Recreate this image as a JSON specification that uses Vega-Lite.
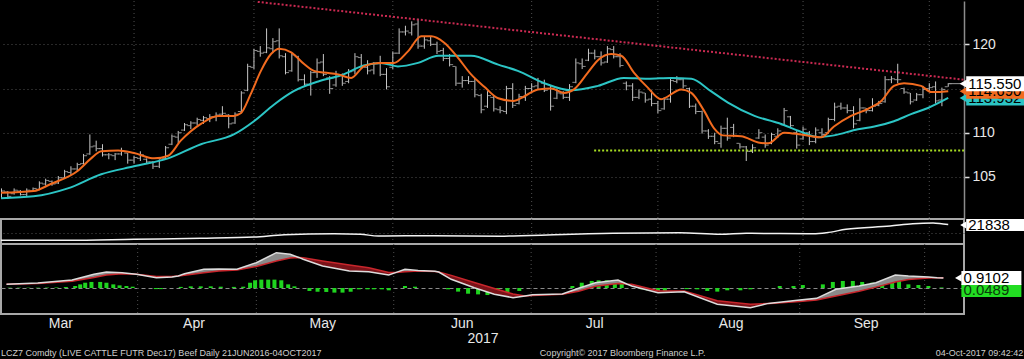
{
"$schema":"https://vega.github.io/schema/vega-lite/v6.json",
"background":"#000000",
"padding":0,
"autosize":{"type":"pad"},
"spacing":0,
"bounds":"flush",
"config":{"view":{"stroke":null},"font":"Liberation Sans","axis":{"gridColor":"#505050","gridDash":[1,3],"gridWidth":1,"labelColor":"#e8e8e8","labelFont":"Liberation Sans","labelFontSize":14,"domainColor":"#8c8c8c"}},
"datasets":{
"months":[{"i":23},{"i":42},{"i":64},{"i":86},{"i":106},{"i":129},{"i":149}],
"bars":[
{"i":2,"o":103.1,"h":103.7,"l":102.6,"c":103.4},
{"i":3,"o":103.3,"h":103.4,"l":102.5,"c":102.8},
{"i":4,"o":103.1,"h":103.7,"l":103.0,"c":103.5},
{"i":5,"o":103.4,"h":103.5,"l":102.9,"c":103.0},
{"i":6,"o":103.0,"h":103.7,"l":102.8,"c":103.5},
{"i":7,"o":103.4,"h":103.8,"l":103.3,"c":103.7},
{"i":8,"o":103.6,"h":104.5,"l":103.5,"c":104.3},
{"i":9,"o":104.2,"h":104.8,"l":104.0,"c":104.6},
{"i":10,"o":104.5,"h":104.6,"l":104.0,"c":104.2},
{"i":11,"o":104.3,"h":105.1,"l":104.2,"c":104.9},
{"i":12,"o":104.9,"h":105.8,"l":104.8,"c":105.6},
{"i":13,"o":105.5,"h":106.2,"l":105.2,"c":105.9},
{"i":14,"o":105.9,"h":106.6,"l":105.6,"c":106.4},
{"i":15,"o":106.5,"h":107.6,"l":106.4,"c":107.4},
{"i":16,"o":107.6,"h":109.8,"l":107.5,"c":108.4},
{"i":17,"o":108.5,"h":109.1,"l":107.9,"c":108.2},
{"i":18,"o":108.2,"h":108.7,"l":107.3,"c":107.5},
{"i":19,"o":107.5,"h":107.7,"l":107.0,"c":107.5},
{"i":20,"o":107.4,"h":107.7,"l":106.9,"c":107.6},
{"i":21,"o":107.6,"h":108.3,"l":107.4,"c":107.9},
{"i":22,"o":107.7,"h":107.7,"l":106.5,"c":106.9},
{"i":23,"o":106.9,"h":107.4,"l":106.5,"c":107.2},
{"i":24,"o":107.1,"h":107.9,"l":106.8,"c":107.5},
{"i":25,"o":107.0,"h":107.1,"l":106.5,"c":106.7},
{"i":26,"o":106.7,"h":106.8,"l":105.9,"c":106.2},
{"i":27,"o":106.2,"h":107.0,"l":106.0,"c":106.9},
{"i":28,"o":107.1,"h":108.5,"l":107.0,"c":108.3},
{"i":29,"o":108.7,"h":109.8,"l":108.6,"c":109.6},
{"i":30,"o":109.5,"h":110.2,"l":108.8,"c":110.0},
{"i":31,"o":110.3,"h":111.1,"l":110.2,"c":110.9},
{"i":32,"o":110.8,"h":111.3,"l":110.4,"c":111.1},
{"i":33,"o":111.1,"h":111.7,"l":110.8,"c":111.5},
{"i":34,"o":111.4,"h":111.9,"l":111.0,"c":111.7},
{"i":35,"o":111.6,"h":112.1,"l":111.2,"c":111.8},
{"i":36,"o":111.8,"h":112.3,"l":111.3,"c":112.0},
{"i":37,"o":112.1,"h":113.0,"l":111.9,"c":112.2},
{"i":38,"o":112.0,"h":112.1,"l":110.5,"c":111.0},
{"i":39,"o":111.1,"h":112.3,"l":111.0,"c":112.1},
{"i":40,"o":112.4,"h":114.7,"l":112.2,"c":114.5},
{"i":41,"o":114.8,"h":117.8,"l":114.7,"c":117.5},
{"i":42,"o":117.4,"h":119.5,"l":117.2,"c":119.3},
{"i":43,"o":119.2,"h":119.8,"l":118.6,"c":119.0},
{"i":44,"o":119.1,"h":121.8,"l":119.0,"c":119.6},
{"i":45,"o":119.5,"h":120.7,"l":119.0,"c":120.3},
{"i":46,"o":120.4,"h":121.8,"l":118.4,"c":118.7},
{"i":47,"o":118.6,"h":119.0,"l":116.6,"c":116.8},
{"i":48,"o":117.0,"h":119.0,"l":116.9,"c":118.8},
{"i":49,"o":118.6,"h":118.7,"l":115.8,"c":116.0},
{"i":50,"o":116.0,"h":116.6,"l":115.3,"c":115.5},
{"i":51,"o":115.4,"h":117.0,"l":114.2,"c":116.8},
{"i":52,"o":116.8,"h":118.4,"l":116.2,"c":117.9},
{"i":53,"o":118.0,"h":118.9,"l":116.4,"c":116.6},
{"i":54,"o":116.2,"h":116.4,"l":114.4,"c":115.0},
{"i":55,"o":115.4,"h":117.0,"l":115.2,"c":116.6},
{"i":56,"o":116.5,"h":116.7,"l":115.3,"c":115.6},
{"i":57,"o":115.8,"h":117.2,"l":115.6,"c":116.9},
{"i":58,"o":117.0,"h":119.0,"l":116.6,"c":118.6},
{"i":59,"o":118.5,"h":118.9,"l":117.2,"c":117.5},
{"i":60,"o":117.4,"h":118.2,"l":116.6,"c":117.0},
{"i":61,"o":117.1,"h":118.0,"l":116.6,"c":117.8},
{"i":62,"o":117.8,"h":118.7,"l":116.4,"c":116.6},
{"i":63,"o":116.6,"h":117.3,"l":114.9,"c":115.2},
{"i":64,"o":117.4,"h":119.2,"l":117.2,"c":119.0},
{"i":65,"o":119.0,"h":121.8,"l":118.9,"c":121.4},
{"i":66,"o":121.4,"h":122.1,"l":121.0,"c":121.5},
{"i":67,"o":121.3,"h":122.6,"l":121.0,"c":122.2},
{"i":68,"o":122.3,"h":122.9,"l":119.5,"c":119.8},
{"i":69,"o":119.8,"h":120.9,"l":119.5,"c":120.5},
{"i":70,"o":120.4,"h":120.9,"l":119.8,"c":120.0},
{"i":71,"o":120.0,"h":120.3,"l":118.9,"c":119.2},
{"i":72,"o":119.3,"h":119.6,"l":118.1,"c":118.4},
{"i":73,"o":118.4,"h":118.9,"l":117.5,"c":117.7},
{"i":74,"o":117.5,"h":117.5,"l":115.3,"c":115.6},
{"i":75,"o":115.6,"h":116.4,"l":115.1,"c":115.9},
{"i":76,"o":115.9,"h":116.4,"l":115.5,"c":115.8},
{"i":77,"o":115.8,"h":116.2,"l":114.0,"c":114.3},
{"i":78,"o":114.2,"h":114.4,"l":112.2,"c":112.6},
{"i":79,"o":113.0,"h":114.7,"l":112.8,"c":114.2},
{"i":80,"o":114.0,"h":114.2,"l":112.4,"c":112.7},
{"i":81,"o":112.6,"h":113.0,"l":112.2,"c":112.5},
{"i":82,"o":112.4,"h":115.3,"l":112.1,"c":115.0},
{"i":83,"o":115.0,"h":115.6,"l":112.8,"c":113.1},
{"i":84,"o":113.3,"h":114.4,"l":113.2,"c":114.1},
{"i":85,"o":114.0,"h":115.3,"l":113.6,"c":115.0},
{"i":86,"o":115.0,"h":115.6,"l":114.5,"c":115.2},
{"i":87,"o":115.3,"h":116.2,"l":114.9,"c":115.8},
{"i":88,"o":115.6,"h":116.0,"l":114.6,"c":114.8},
{"i":89,"o":115.0,"h":115.3,"l":112.5,"c":113.0},
{"i":90,"o":113.9,"h":115.0,"l":113.8,"c":114.5},
{"i":91,"o":114.4,"h":114.7,"l":113.8,"c":114.0},
{"i":92,"o":114.0,"h":115.5,"l":113.6,"c":115.2},
{"i":93,"o":115.7,"h":118.4,"l":115.6,"c":117.9},
{"i":94,"o":117.8,"h":118.4,"l":117.2,"c":117.5},
{"i":95,"o":118.2,"h":119.5,"l":118.1,"c":119.0},
{"i":96,"o":119.0,"h":119.4,"l":118.3,"c":118.6},
{"i":97,"o":118.6,"h":119.2,"l":117.6,"c":117.9},
{"i":98,"o":118.0,"h":119.8,"l":117.9,"c":119.5},
{"i":99,"o":119.4,"h":119.8,"l":118.4,"c":118.6},
{"i":100,"o":118.6,"h":119.0,"l":117.4,"c":117.6},
{"i":101,"o":115.6,"h":115.8,"l":114.8,"c":115.3},
{"i":102,"o":115.3,"h":115.6,"l":113.6,"c":114.0},
{"i":103,"o":114.0,"h":114.9,"l":113.8,"c":114.6},
{"i":104,"o":114.5,"h":114.5,"l":113.4,"c":113.7},
{"i":105,"o":113.8,"h":114.8,"l":113.0,"c":113.3},
{"i":106,"o":113.3,"h":113.6,"l":112.2,"c":112.5},
{"i":107,"o":112.7,"h":114.0,"l":112.6,"c":113.8},
{"i":108,"o":113.8,"h":116.2,"l":113.4,"c":115.9},
{"i":109,"o":115.8,"h":116.4,"l":115.6,"c":116.0},
{"i":110,"o":116.0,"h":116.2,"l":115.0,"c":115.3},
{"i":111,"o":115.0,"h":115.1,"l":112.8,"c":113.0},
{"i":112,"o":113.0,"h":113.3,"l":112.1,"c":112.4},
{"i":113,"o":112.4,"h":112.5,"l":109.9,"c":110.2},
{"i":114,"o":110.2,"h":110.4,"l":109.3,"c":109.6},
{"i":115,"o":109.6,"h":110.0,"l":108.7,"c":109.0},
{"i":116,"o":108.8,"h":110.8,"l":108.3,"c":110.5},
{"i":117,"o":110.5,"h":111.7,"l":109.1,"c":109.4},
{"i":118,"o":110.6,"h":111.0,"l":109.5,"c":109.7},
{"i":119,"o":108.8,"h":108.8,"l":108.2,"c":108.4},
{"i":120,"o":108.4,"h":108.5,"l":106.8,"c":107.9},
{"i":121,"o":107.9,"h":108.7,"l":107.7,"c":108.3},
{"i":122,"o":109.4,"h":110.4,"l":109.3,"c":110.0},
{"i":123,"o":109.5,"h":109.8,"l":108.3,"c":108.6},
{"i":124,"o":108.8,"h":110.0,"l":108.7,"c":109.8},
{"i":125,"o":109.6,"h":110.5,"l":109.4,"c":110.2},
{"i":126,"o":110.9,"h":112.8,"l":110.8,"c":112.5},
{"i":127,"o":111.8,"h":111.9,"l":110.5,"c":110.8},
{"i":128,"o":110.0,"h":110.2,"l":108.2,"c":108.6},
{"i":129,"o":109.3,"h":110.7,"l":109.2,"c":110.4},
{"i":130,"o":110.0,"h":110.2,"l":108.6,"c":109.0},
{"i":131,"o":109.0,"h":110.6,"l":108.8,"c":110.3},
{"i":132,"o":110.0,"h":110.5,"l":109.4,"c":109.8},
{"i":133,"o":110.0,"h":111.7,"l":109.9,"c":111.5},
{"i":134,"o":111.5,"h":113.4,"l":111.3,"c":112.9},
{"i":135,"o":113.0,"h":113.4,"l":112.6,"c":112.8},
{"i":136,"o":112.8,"h":113.2,"l":112.2,"c":112.5},
{"i":137,"o":112.5,"h":113.0,"l":110.5,"c":111.0},
{"i":138,"o":111.4,"h":113.9,"l":111.3,"c":112.8},
{"i":139,"o":112.8,"h":112.8,"l":112.2,"c":112.5},
{"i":140,"o":112.5,"h":113.9,"l":112.4,"c":113.0},
{"i":141,"o":113.1,"h":113.6,"l":113.0,"c":113.3},
{"i":142,"o":113.5,"h":116.4,"l":113.4,"c":116.0},
{"i":143,"o":116.0,"h":116.4,"l":115.6,"c":116.1},
{"i":144,"o":116.0,"h":117.8,"l":115.6,"c":116.0},
{"i":145,"o":115.0,"h":115.1,"l":114.4,"c":114.6},
{"i":146,"o":114.5,"h":114.5,"l":113.2,"c":113.5},
{"i":147,"o":113.7,"h":114.5,"l":113.6,"c":114.3},
{"i":148,"o":114.3,"h":115.3,"l":113.9,"c":114.9},
{"i":149,"o":115.0,"h":115.6,"l":114.7,"c":115.1},
{"i":150,"o":115.2,"h":115.8,"l":113.3,"c":113.6},
{"i":151,"o":113.7,"h":115.1,"l":113.0,"c":114.9},
{"i":152,"o":115.2,"h":115.6,"l":115.2,"c":115.55}
],
"fast":[
{"i":1.9,"v":103.2},{"i":7.1,"v":103.4},{"i":9.8,"v":104.2},{"i":14.1,"v":105.7},{"i":16.2,"v":107.1},{"i":17.8,"v":107.9},{"i":20.5,"v":108.0},{"i":23,"v":107.7},{"i":26.2,"v":107.1},{"i":28.4,"v":107.4},{"i":30.4,"v":109.1},{"i":33.6,"v":111.0},{"i":36.3,"v":111.9},{"i":38.8,"v":111.9},{"i":39.9,"v":112.2},{"i":41.5,"v":114.4},{"i":43.1,"v":117.0},{"i":44.7,"v":118.9},{"i":46,"v":119.5},{"i":47.9,"v":119.1},{"i":49.9,"v":117.8},{"i":51.5,"v":117.0},{"i":53.1,"v":116.8},{"i":55.3,"v":116.6},{"i":57.4,"v":116.2},{"i":59.4,"v":117.5},{"i":61.7,"v":117.9},{"i":64.2,"v":117.9},{"i":66.4,"v":119.2},{"i":68.5,"v":120.9},{"i":70.1,"v":120.9},{"i":72.1,"v":120.2},{"i":74.3,"v":118.5},{"i":76.4,"v":116.6},{"i":78.5,"v":115.2},{"i":80.7,"v":113.9},{"i":83.1,"v":113.6},{"i":84.8,"v":114.1},{"i":87,"v":114.9},{"i":89.1,"v":115.0},{"i":91.1,"v":114.5},{"i":92.7,"v":114.9},{"i":94.9,"v":116.8},{"i":96.5,"v":118.2},{"i":98.6,"v":118.9},{"i":100.2,"v":118.7},{"i":102.2,"v":116.8},{"i":104.4,"v":115.1},{"i":106.5,"v":113.8},{"i":109.7,"v":114.9},{"i":111.3,"v":114.5},{"i":113.3,"v":112.5},{"i":114.9,"v":110.5},{"i":116.3,"v":109.7},{"i":119.2,"v":109.6},{"i":121.9,"v":108.9},{"i":123.5,"v":108.8},{"i":126,"v":110.0},{"i":128.7,"v":109.8},{"i":131.9,"v":109.5},{"i":133.9,"v":110.7},{"i":136.6,"v":111.9},{"i":139.3,"v":112.7},{"i":141.4,"v":113.6},{"i":143.4,"v":115.3},{"i":145,"v":115.6},{"i":147.7,"v":115.3},{"i":149.3,"v":114.6},{"i":150.4,"v":114.6},{"i":152,"v":114.69}
],
"slow":[
{"i":1.9,"v":102.6},{"i":7.1,"v":102.8},{"i":12.5,"v":103.7},{"i":17.8,"v":105.3},{"i":23,"v":106.2},{"i":28.4,"v":107.1},{"i":33.6,"v":108.7},{"i":38.8,"v":109.8},{"i":42,"v":111.3},{"i":45.2,"v":113.2},{"i":48.3,"v":114.7},{"i":52.2,"v":115.8},{"i":55.8,"v":116.5},{"i":59.4,"v":117.6},{"i":62.1,"v":117.9},{"i":64.8,"v":117.5},{"i":68,"v":117.9},{"i":71.2,"v":118.7},{"i":76.4,"v":118.7},{"i":80.7,"v":117.7},{"i":83.8,"v":117.0},{"i":88,"v":115.6},{"i":92.2,"v":114.8},{"i":96.5,"v":115.3},{"i":100.6,"v":116.2},{"i":104.4,"v":116.1},{"i":108.1,"v":116.2},{"i":111.3,"v":116.1},{"i":114.4,"v":114.7},{"i":117.1,"v":113.4},{"i":121.3,"v":111.9},{"i":125.1,"v":111.1},{"i":128.7,"v":110.1},{"i":131.4,"v":109.5},{"i":133.9,"v":109.7},{"i":137.7,"v":110.4},{"i":140.3,"v":110.7},{"i":143.4,"v":111.3},{"i":146.1,"v":112.1},{"i":148.8,"v":112.8},{"i":152,"v":113.93}
],
"vol":[
{"i":1.9,"v":15480},{"i":12.5,"v":15480},{"i":23,"v":15880},{"i":33.6,"v":16280},{"i":42,"v":16800},{"i":46.8,"v":17720},{"i":54.7,"v":18120},{"i":58.9,"v":17880},{"i":61.7,"v":17200},{"i":70.5,"v":17320},{"i":81.1,"v":17080},{"i":83.1,"v":17200},{"i":98.9,"v":18280},{"i":109.5,"v":18520},{"i":115.9,"v":17880},{"i":120,"v":18280},{"i":130.6,"v":18120},{"i":132.7,"v":18520},{"i":135.8,"v":19880},{"i":142.8,"v":21200},{"i":146.4,"v":22120},{"i":149.6,"v":22400},{"i":151.2,"v":22000},{"i":152,"v":21838}
],
"macd":[
{"i":2,"m":0.34,"s":0.34,"g":1,"st":"u"},{"i":7,"m":0.45,"s":0.40,"g":1,"st":"u"},{"i":12.5,"m":0.72,"s":0.62,"g":1,"st":"u"},{"i":16,"m":1.25,"s":0.95,"g":1,"st":"u"},{"i":18,"m":1.45,"s":1.18,"g":1,"st":"u"},{"i":20.5,"m":1.39,"s":1.30,"g":1,"st":"u"},{"i":22.8,"m":1.26,"s":1.26,"g":1,"st":"u"},
{"i":22.8,"m":1.26,"s":1.26,"g":2,"st":"d"},{"i":26,"m":0.94,"s":1.05,"g":2,"st":"d"},{"i":28.5,"m":1.0,"s":1.04,"g":2,"st":"d"},{"i":29.5,"m":1.10,"s":1.10,"g":2,"st":"d"},
{"i":29.5,"m":1.10,"s":1.10,"g":3,"st":"u"},{"i":30.5,"m":1.30,"s":1.15,"g":3,"st":"u"},{"i":33.6,"m":1.70,"s":1.39,"g":3,"st":"u"},{"i":36,"m":1.72,"s":1.55,"g":3,"st":"u"},{"i":38.9,"m":1.70,"s":1.64,"g":3,"st":"u"},{"i":42,"m":2.30,"s":1.95,"g":3,"st":"u"},{"i":45.2,"m":3.21,"s":2.45,"g":3,"st":"u"},{"i":47.4,"m":3.06,"s":2.72,"g":3,"st":"u"},{"i":48.8,"m":2.78,"s":2.78,"g":3,"st":"u"},
{"i":48.8,"m":2.78,"s":2.78,"g":4,"st":"d"},{"i":49.5,"m":2.61,"s":2.74,"g":4,"st":"d"},{"i":52.6,"m":2.0,"s":2.45,"g":4,"st":"d"},{"i":56.9,"m":1.55,"s":2.10,"g":4,"st":"d"},{"i":60,"m":1.48,"s":1.85,"g":4,"st":"d"},{"i":63.2,"m":1.18,"s":1.42,"g":4,"st":"d"},{"i":64.4,"m":1.42,"s":1.42,"g":4,"st":"d"},
{"i":64.4,"m":1.42,"s":1.42,"g":5,"st":"u"},{"i":65.8,"m":1.70,"s":1.48,"g":5,"st":"u"},{"i":67.9,"m":1.58,"s":1.55,"g":5,"st":"u"},{"i":70.6,"m":1.52,"s":1.50,"g":5,"st":"u"},{"i":71.2,"m":1.45,"s":1.45,"g":5,"st":"u"},
{"i":71.2,"m":1.45,"s":1.45,"g":6,"st":"d"},{"i":73.2,"m":0.79,"s":1.15,"g":6,"st":"d"},{"i":76.9,"m":0.03,"s":0.50,"g":6,"st":"d"},{"i":80.1,"m":-0.57,"s":-0.05,"g":6,"st":"d"},{"i":83.1,"m":-0.88,"s":-0.55,"g":6,"st":"d"},{"i":85,"m":-0.72,"s":-0.72,"g":6,"st":"d"},
{"i":85,"m":-0.72,"s":-0.72,"g":7,"st":"u"},{"i":86.2,"m":-0.62,"s":-0.68,"g":7,"st":"u"},{"i":91,"m":-0.55,"s":-0.56,"g":7,"st":"u"},{"i":93.6,"m":-0.03,"s":-0.30,"g":7,"st":"u"},{"i":96.3,"m":0.48,"s":0.15,"g":7,"st":"u"},{"i":99.9,"m":0.73,"s":0.40,"g":7,"st":"u"},{"i":101.3,"m":0.36,"s":0.36,"g":7,"st":"u"},
{"i":101.3,"m":0.36,"s":0.36,"g":8,"st":"d"},{"i":102.1,"m":0.18,"s":0.35,"g":8,"st":"d"},{"i":106.3,"m":-0.43,"s":-0.25,"g":8,"st":"d"},{"i":110.5,"m":-0.34,"s":-0.28,"g":8,"st":"d"},{"i":115.8,"m":-1.48,"s":-1.15,"g":8,"st":"d"},{"i":121.1,"m":-1.79,"s":-1.48,"g":8,"st":"d"},{"i":123.8,"m":-1.42,"s":-1.42,"g":8,"st":"d"},
{"i":123.8,"m":-1.42,"s":-1.42,"g":9,"st":"u"},{"i":124.3,"m":-1.38,"s":-1.42,"g":9,"st":"u"},{"i":129,"m":-1.09,"s":-1.22,"g":9,"st":"u"},{"i":131.7,"m":-0.94,"s":-1.10,"g":9,"st":"u"},{"i":134.8,"m":-0.12,"s":-0.72,"g":9,"st":"u"},{"i":138.5,"m":0.18,"s":-0.30,"g":9,"st":"u"},{"i":141.2,"m":0.48,"s":0.08,"g":9,"st":"u"},{"i":144.3,"m":1.18,"s":0.55,"g":9,"st":"u"},{"i":146.4,"m":1.09,"s":0.78,"g":9,"st":"u"},{"i":149.6,"m":1.00,"s":0.90,"g":9,"st":"u"},{"i":151,"m":0.93,"s":0.93,"g":9,"st":"u"},
{"i":151,"m":0.93,"s":0.93,"g":10,"st":"d"},{"i":152,"m":0.91,"s":0.93,"g":10,"st":"d"}
],
"hist":[
{"i":2.5,"v":0.03},{"i":4,"v":0.03},{"i":5.5,"v":0.03},{"i":7,"v":0.03},{"i":8.5,"v":0.04},{"i":10,"v":0.05},{"i":11.5,"v":0.1},
{"i":13.0,"v":0.18},{"i":13.8,"v":0.33},{"i":14.6,"v":0.48},{"i":15.6,"v":0.55},{"i":17.0,"v":0.55},{"i":18.0,"v":0.48},{"i":19.1,"v":0.33},{"i":20.1,"v":0.24},{"i":21.2,"v":0.18},{"i":22.2,"v":0.12},
{"i":25.9,"v":-0.1},{"i":26.7,"v":-0.1},{"i":29.9,"v":0.1},{"i":31.5,"v":0.15},{"i":33.1,"v":0.15},{"i":34.7,"v":0.15},{"i":36.3,"v":0.12},{"i":38.4,"v":0.1},{"i":39.9,"v":0.12},
{"i":41.0,"v":0.48},{"i":41.8,"v":0.70},{"i":42.8,"v":0.76},{"i":43.9,"v":0.76},{"i":44.9,"v":0.76},{"i":46.0,"v":0.70},{"i":47.1,"v":0.33},{"i":48.1,"v":0.15},
{"i":50.5,"v":-0.27},{"i":51.8,"v":-0.34},{"i":53.2,"v":-0.36},{"i":54.5,"v":-0.42},{"i":55.8,"v":-0.42},{"i":57.1,"v":-0.34},{"i":58.4,"v":-0.12},{"i":59.8,"v":-0.12},{"i":60.8,"v":-0.12},{"i":62.1,"v":-0.12},{"i":63.2,"v":-0.21},
{"i":65.8,"v":0.18},{"i":67.4,"v":0.12},
{"i":72.7,"v":-0.12},{"i":74.3,"v":-0.33},{"i":75.9,"v":-0.52},{"i":77.5,"v":-0.58},{"i":79.0,"v":-0.64},{"i":80.6,"v":-0.58},{"i":82.2,"v":-0.42},{"i":84.1,"v":-0.27},
{"i":92.6,"v":0.18},{"i":94.1,"v":0.48},{"i":95.7,"v":0.64},{"i":96.8,"v":0.70},{"i":98.1,"v":0.70},{"i":99.4,"v":0.64},{"i":100.5,"v":0.48},
{"i":103.7,"v":-0.12},{"i":104.7,"v":-0.21},{"i":106.3,"v":-0.33},{"i":107.4,"v":-0.33},{"i":110.9,"v":-0.1},{"i":112.6,"v":-0.12},{"i":114.2,"v":-0.27},{"i":115.8,"v":-0.33},{"i":117.4,"v":-0.21},{"i":119.5,"v":-0.21},{"i":121.1,"v":-0.12},
{"i":125.8,"v":0.18},{"i":128.0,"v":0.18},{"i":129.5,"v":0.27},{"i":132.7,"v":0.33},{"i":134.3,"v":0.55},{"i":135.9,"v":0.64},{"i":137.5,"v":0.64},{"i":139.0,"v":0.55},{"i":140.6,"v":0.48},{"i":142.2,"v":0.64},{"i":143.8,"v":0.79},{"i":144.9,"v":0.64},{"i":146.4,"v":0.33},{"i":148.0,"v":0.27},{"i":149.6,"v":0.18},{"i":151.7,"v":0.05}
],
"foot":[
{"t":"Mar","i":11.4,"line":1,"k":"month"},{"t":"Apr","i":32.5,"line":1,"k":"month"},{"t":"May","i":52.9,"line":1,"k":"month"},{"t":"Jun","i":75.0,"line":1,"k":"month"},{"t":"Jul","i":96.0,"line":1,"k":"month"},{"t":"Aug","i":117.6,"line":1,"k":"month"},{"t":"Sep","i":139.0,"line":1,"k":"month"},
{"t":"2017","i":78.3,"line":2,"k":"month"},
{"t":"LCZ7 Comdty (LIVE CATTLE FUTR  Dec17) Beef  Daily 21JUN2016-04OCT2017","i":1.92,"line":3,"k":"src"},
{"t":"Copyright© 2017 Bloomberg Finance L.P.","i":87.3,"line":3,"k":"src"},
{"t":"04-Oct-2017 09:42:42","i":163.9,"line":3,"k":"stamp"}
]
},
"vconcat":[
{
"width":963,"height":218,
"encoding":{"x":{"field":"i","type":"quantitative","scale":{"domain":[1.92,154.5],"nice":false,"zero":false},"axis":null}},
"layer":[
{"data":{"name":"months"},"mark":{"type":"rule","color":"#505050","strokeWidth":1,"strokeDash":[1,3]},"encoding":{}},
{"data":{"name":"bars"},"mark":{"type":"rule","color":"#c8c8c8","strokeWidth":1,"clip":true},
 "encoding":{"y":{"field":"l","type":"quantitative","scale":{"domain":[100.24,124.9],"nice":false,"zero":false},
   "axis":{"orient":"right","values":[105,110,115,120],"grid":true,"tickSize":5,"tickColor":"#e0e0e0","tickWidth":1.5,"labelPadding":3,"labelFontSize":14,"labelColor":"#e8e8e8","domainColor":"#8c8c8c","domainWidth":1.5,"title":null}},
  "y2":{"field":"h"}}},
{"data":{"name":"bars"},"mark":{"type":"tick","orient":"horizontal","size":3,"thickness":1,"xOffset":-2,"color":"#c8c8c8","clip":true},"encoding":{"y":{"field":"o","type":"quantitative"}}},
{"data":{"name":"bars"},"mark":{"type":"tick","orient":"horizontal","size":3,"thickness":1,"xOffset":2,"color":"#c8c8c8","clip":true},"encoding":{"y":{"field":"c","type":"quantitative"}}},
{"data":{"name":"slow"},"mark":{"type":"line","color":"#2cc5c5","strokeWidth":2,"clip":true,"interpolate":"monotone"},"encoding":{"y":{"field":"v","type":"quantitative"}}},
{"data":{"name":"fast"},"mark":{"type":"line","color":"#f26b1f","strokeWidth":2,"clip":true,"interpolate":"monotone"},"encoding":{"y":{"field":"v","type":"quantitative"}}},
{"data":{"values":[{"i":42.6,"v":124.8},{"i":154.5,"v":116.0}]},"mark":{"type":"line","color":"#cc2a52","strokeWidth":2,"strokeDash":[2,2],"clip":true},"encoding":{"y":{"field":"v","type":"quantitative"}}},
{"data":{"values":[{"i":95.9,"v":108.0},{"i":154.5,"v":108.0}]},"mark":{"type":"line","color":"#a6dd22","strokeWidth":2,"strokeDash":[2,2],"clip":true},"encoding":{"y":{"field":"v","type":"quantitative"}}},
{"data":{"values":[{"i":152,"v":115.55},{"i":154.5,"v":115.55}]},"mark":{"type":"line","color":"#9a9a9a","strokeWidth":1,"clip":true},"encoding":{"y":{"field":"v","type":"quantitative"}}},
{"data":{"values":[{"i":152,"v":113.932,"t":"113.932"}]},"layer":[
 {"mark":{"type":"rule","color":"#2cc5c5","strokeWidth":15,"strokeCap":"butt","xOffset":18,"x2Offset":78},"encoding":{"x2":{"field":"i"},"y":{"field":"v","type":"quantitative"}}},
 {"mark":{"type":"point","shape":"triangle-left","filled":true,"size":70,"color":"#2cc5c5","opacity":1,"xOffset":15},"encoding":{"y":{"field":"v","type":"quantitative"}}},
 {"mark":{"type":"text","align":"left","baseline":"middle","fontSize":15,"color":"#000000","dx":20},"encoding":{"y":{"field":"v","type":"quantitative"},"text":{"field":"t"}}}
]},
{"data":{"values":[{"i":152,"v":114.69,"t":"114.690"}]},"layer":[
 {"mark":{"type":"rule","color":"#f26b1f","strokeWidth":15,"strokeCap":"butt","xOffset":18,"x2Offset":78},"encoding":{"x2":{"field":"i"},"y":{"field":"v","type":"quantitative"}}},
 {"mark":{"type":"point","shape":"triangle-left","filled":true,"size":70,"color":"#f26b1f","opacity":1,"xOffset":15},"encoding":{"y":{"field":"v","type":"quantitative"}}},
 {"mark":{"type":"text","align":"left","baseline":"middle","fontSize":15,"color":"#000000","dx":20},"encoding":{"y":{"field":"v","type":"quantitative"},"text":{"field":"t"}}}
]},
{"data":{"values":[{"i":152,"v":115.55,"t":"115.550"}]},"layer":[
 {"mark":{"type":"rule","color":"#ffffff","strokeWidth":15,"strokeCap":"butt","xOffset":18,"x2Offset":78},"encoding":{"x2":{"field":"i"},"y":{"field":"v","type":"quantitative"}}},
 {"mark":{"type":"point","shape":"triangle-left","filled":true,"size":70,"color":"#ffffff","opacity":1,"xOffset":15},"encoding":{"y":{"field":"v","type":"quantitative"}}},
 {"mark":{"type":"text","align":"left","baseline":"middle","fontSize":15,"color":"#000000","dx":20},"encoding":{"y":{"field":"v","type":"quantitative"},"text":{"field":"t"}}}
]}
]
},
{
"width":963,"height":25,
"view":{"stroke":"#a8a8a8","strokeWidth":2},
"encoding":{"x":{"field":"i","type":"quantitative","scale":{"domain":[1.92,154.5],"nice":false,"zero":false},"axis":null}},
"layer":[
{"data":{"name":"months"},"mark":{"type":"rule","color":"#505050","strokeWidth":1,"strokeDash":[1,3]},"encoding":{}},
{"data":{"name":"vol"},"mark":{"type":"line","color":"#f2f2f2","strokeWidth":1.5,"clip":true,"interpolate":"monotone"},
 "encoding":{"y":{"field":"v","type":"quantitative","scale":{"domain":[14000,24000],"nice":false,"zero":false},"axis":{"orient":"right","values":[18400],"grid":true,"labels":false,"ticks":false,"domain":false,"title":null}}}},
{"data":{"values":[{"i":152,"v":21600,"t":"21838"}]},"layer":[
 {"mark":{"type":"rule","color":"#ffffff","strokeWidth":12,"strokeCap":"butt","xOffset":18,"x2Offset":78},"encoding":{"x2":{"field":"i"},"y":{"field":"v","type":"quantitative"}}},
 {"mark":{"type":"point","shape":"triangle-left","filled":true,"size":50,"color":"#ffffff","opacity":1,"xOffset":15},"encoding":{"y":{"field":"v","type":"quantitative"}}},
 {"mark":{"type":"text","align":"left","baseline":"middle","fontSize":15,"color":"#000000","dx":20},"encoding":{"y":{"field":"v","type":"quantitative"},"text":{"field":"t"}}}
]}
]
},
{
"width":963,"height":70,
"view":{"stroke":"#a8a8a8","strokeWidth":2},
"encoding":{"x":{"field":"i","type":"quantitative","scale":{"domain":[1.92,154.5],"nice":false,"zero":false},"axis":null}},
"layer":[
{"data":{"name":"months"},"mark":{"type":"rule","color":"#505050","strokeWidth":1,"strokeDash":[1,3]},"encoding":{}},
{"data":{"name":"hist"},"mark":{"type":"bar","color":"#1fd41f","size":4,"clip":true},
 "encoding":{"y":{"field":"v","type":"quantitative","scale":{"domain":[-2.364,4.0],"nice":false,"zero":false},"axis":{"orient":"right","values":[0],"grid":true,"gridDash":[4,3],"gridColor":"#8a8a8a","labels":false,"ticks":false,"domain":false,"title":null}}}},
{"data":{"name":"macd"},"mark":{"type":"area","clip":true,"opacity":1},
 "encoding":{"y":{"field":"m","type":"quantitative"},"y2":{"field":"s"},"detail":{"field":"g","type":"nominal"},"color":{"field":"st","type":"nominal","scale":{"domain":["u","d"],"range":["#8a8a8a","#7a1218"]},"legend":null}}},
{"data":{"name":"macd"},"mark":{"type":"line","color":"#c8262c","strokeWidth":1.5,"clip":true},"encoding":{"y":{"field":"s","type":"quantitative"}}},
{"data":{"name":"macd"},"mark":{"type":"line","color":"#dcdcdc","strokeWidth":1.5,"clip":true},"encoding":{"y":{"field":"m","type":"quantitative"}}},
{"data":{"values":[{"i":152,"v":0.0489,"t":"0.0489"}]},"layer":[
 {"mark":{"type":"rule","color":"#22dd22","strokeWidth":13,"strokeCap":"butt","xOffset":18,"x2Offset":78,"yOffset":3},"encoding":{"x2":{"field":"i"},"y":{"field":"v","type":"quantitative"}}},
 {"mark":{"type":"text","align":"left","baseline":"middle","fontSize":15,"color":"#0a3a0a","dx":20,"dy":3},"encoding":{"y":{"field":"v","type":"quantitative"},"text":{"field":"t"}}}
]},
{"data":{"values":[{"i":152,"v":0.9102,"t":"0.9102"}]},"layer":[
 {"mark":{"type":"rule","color":"#ffffff","strokeWidth":14,"strokeCap":"butt","xOffset":18,"x2Offset":78},"encoding":{"x2":{"field":"i"},"y":{"field":"v","type":"quantitative"}}},
 {"mark":{"type":"point","shape":"triangle-left","filled":true,"size":60,"color":"#ffffff","opacity":1,"xOffset":15},"encoding":{"y":{"field":"v","type":"quantitative"}}},
 {"mark":{"type":"text","align":"left","baseline":"middle","fontSize":15,"color":"#000000","dx":20},"encoding":{"y":{"field":"v","type":"quantitative"},"text":{"field":"t"}}}
]}
]
},
{
"width":963,"height":49,
"data":{"name":"foot"},
"encoding":{
 "x":{"field":"i","type":"quantitative","scale":{"domain":[1.92,154.5],"nice":false,"zero":false},"axis":null},
 "y":{"field":"line","type":"ordinal","scale":{"type":"point","domain":[1,2,3],"padding":0.69},"axis":null},
 "text":{"field":"t"}
},
"layer":[
{"transform":[{"filter":"datum.k === 'month'"}],"mark":{"type":"text","fontSize":14,"color":"#e8e8e8","align":"center","baseline":"middle"}},
{"transform":[{"filter":"datum.k === 'src'"}],"mark":{"type":"text","fontSize":9,"color":"#cfcfcf","align":"left","baseline":"middle"}},
{"transform":[{"filter":"datum.k === 'stamp'"}],"mark":{"type":"text","fontSize":9,"color":"#cfcfcf","align":"right","baseline":"middle"}}
]
}
]
}
